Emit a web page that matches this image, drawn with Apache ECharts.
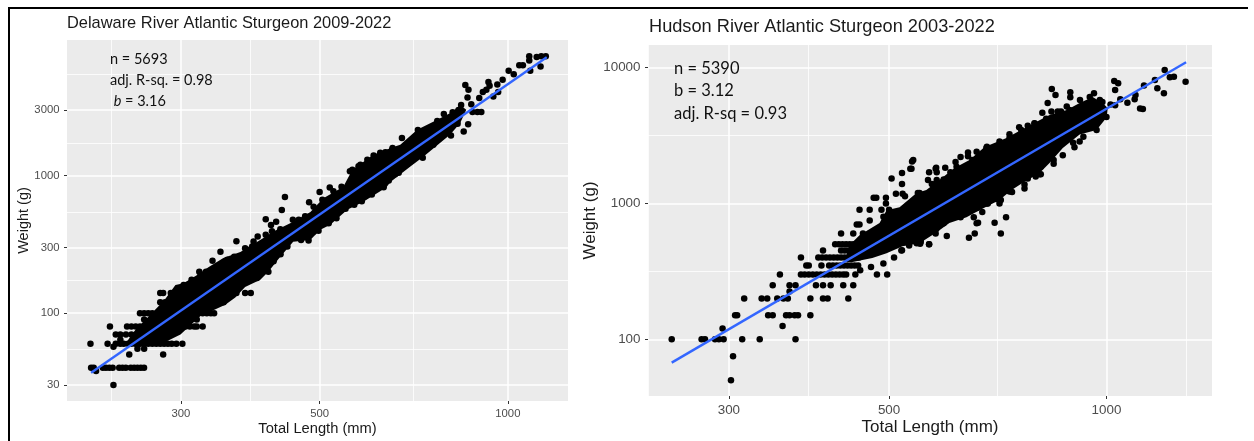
<!DOCTYPE html>
<html><head><meta charset="utf-8">
<style>html,body{margin:0;padding:0;background:#fff}#c{width:1254px;height:441px}</style>
<script src="https://cdn.jsdelivr.net/npm/echarts@6/dist/echarts.min.js"></script>
</head><body><div id="c"></div>
<script>
// ---------- Delaware ----------
const delawareTitle = 'Delaware River Atlantic Sturgeon 2009-2022';
const delawareXTicks = [300, 500, 1000];
const delawareXMinor = [232, 387, 707];
const delawareYTicks = [30, 100, 300, 1000, 3000];
const delawareYMinor = [55, 173, 540, 1732, 5500];
const delawareFit = [[215.5, 36.8], [1154, 7255]];
const delawareRows = [
  [30, [234]],
  [38, [219.5]],
  [40, [215.5,217.6,225,227.6,230.5,233.3,239,241.9,244.9,249.4,252.5,255.6,258.8,261.9]],
  [50, [248,281]],
  [55, [255.6,262]],
  [57, [234]],
  [60, [215,229,236,240,243,247,250,254,258,262,266,270,274,278,282,286,290,295,301.6]],
  [64, [240]],
  [70, [236,240,245,250,255,260,265,270]],
  [80, [231,246,250,254,258,262,266,270,275,280,285,290,295,300,305,310,315,318,325]],
  [90, [262,318]],
  [100, [258,262,266,270,275,280,285,290,295,300,305,310,315,320,325,330,335,339]],
  [120, [278,283,288,293,298,303,308,313,318,323,328,333,338,343,348,351]],
  [140, [278,281,289,294,299,304,309,314,319,324,329,334,339,344,349,354,359,364,368,380,388]]
];
const delawarePoints = [
  [321,200],[337,240],[347,280],[368,333],[398,361],[410,482],[418,437],[426,462],[435,562],[440,698],[453,478],
  [481,640],[500,760],[519,820],[564,1104],[581,1200],[610,1400],[637,1480],[654,1590],[677,1880],
  [414,200],[397,180],[467,341],[480,337],[498,398],[517,450],[550,574],[584,650],[633,825],[645,920],[660,1022],[681,1200],
  [718,2150],[731,1350],[760,1680],[771,2500],[790,2810],[811,1960],[816,2890],[831,2380],[834,3000],[842,3270],
  [850,2096],[855,4570],[862,3700],[864,2360],[865,4216],[874,3300],[878,2900],[894,2900],[907,2900],[900,3670],
  [912,4060],[924,4216],[931,4800],[935,4500],[948,3770],[962,4600],[965,4060],[981,4985],[1003,5800],[1022,5470],
  [1043,6340],[1057,6340],[1086,5800],[1082,6890],[1082,7370],[1112,7300],[1131,7370],[1150,7370],[1128,6230],
  [380,297],[392,332],[410,371],[419.5,394],[432.6,408],[463,477],[474,506],[489,595],[505,667],[526,770],[542,830],
  [559,1075],[577,1170],[596,1305],[625,1470],[653,1543],[686,1615],
  [404,206],[422,238],[433,268],[444,305],[489,392],[532,490],[568,615],[606,728],[617,810],[669,1048],
  [303,160],[312,175],[322,185],[329,200],[338.6,206],[356,244],[365,257],[383,289],[390,305]
];
const delawareCloudLengths = [244.5,253.7,267.8,282.6,294,302.8,319,331.9,350.7,373.4,397.5,406.4,421.7,453.6,483.3,506.9,545.6,564,609.5,656,672.9,716,771,815,839,858,839,809,732.5,698.4,648.9,639,587.4,553.6,520,501.3,483,453.6,432.6,413.9,401.9,380,366.5,353.3,322,299.5,277.5,253.7];
const delawareCloudWeights = [60,75.6,97,125,160,165,190,216,252,278,330,352,392,462,543,685,830,1104,1420,1615,1680,2157,2550,2900,3270,3016,2410,1995,1370,1166,900,820,645,564,440,404,341,330,257,200,175,155,130,115,95,70,59,57];
const delawareNotes = 'n = 5693\nadj. R-sq. = 0.98\n {i|b} = 3.16';

// ---------- Hudson ----------
const hudsonTitle = 'Hudson River Atlantic Sturgeon 2003-2022';
const hudsonXTicks = [300, 500, 1000];
const hudsonXMinor = [232, 387, 707, 1288];
const hudsonYTicks = [100, 1000, 10000];
const hudsonYMinor = [316, 3162];
const hudsonFit = [[250, 67.3], [1289, 10960]];
const hudsonRows = [
  [50, [302]],
  [75, [304]],
  [100, [250,275,278,287,290.6,295,313,331,371]],
  [120, [294]],
  [125, [356]],
  [150, [306,308,340,345,360,364,370,374,389]],
  [200, [315,333,339,350,357,362,389,405,411,439]],
  [225, [364]],
  [250, [345,364,371,396,405,415,432,446]],
  [300, [353,377.5,382,387,392,397,402,407,412,417,422,427,432,436,449,481,497]],
  [350, [384,387,403,413,418,423,428,433,438,443,448,453]],
  [400, [377.5,399,404,409,414,419,424,429,434,439,444,449,454,508]],
  [450, [405,429,434,439,444,449,454,520]],
  [500, [421,426,431,436,441,446,451,456,461,568]],
  [600, [429,446,460,470,480,490,500]],
  [700, [451,455]],
  [750, [470]],
  [800, [491]],
  [900, [455,470,488,500]],
  [1000, [495]],
  [1100, [476,480,495]]
];
const hudsonPoints = [
  [456,322],[472,340],[491,362],[553,520],[504,1530],[521,1680],[521,1390],[511,1180],[522,1180],[535,1800],[538,2040],
  [568,1700],[580,1800],[566,1487],[540,2088],[537,1800],[581,1830],[582,1700],[598,1830],[608,1700],[582,1487],[573,1390],
  [618,2020],[628,2200],[643,2370],[643,2230],[652,2088],[661,2404],[683,2543],[548,1193],[526,1130],
  [840,6970],[850,6295],[829,5490],[815,4660],[891,6590],[891,6055],[881,5170],[919,5783],[948,6085],[961,6480],[979,5783],[987,5600],[953,5600],
  [1025,7980],[1038,7680],[1028,6853],[1013,5370],[1028,5290],[1045,5850],[1069,5520],[1097,6295],[1094,5850],[1113,5010],[1123,4960],
  [1127,7390],[1167,8121],[1176,7070],[1201,6480],[1204,9624],[1224,8500],[1240,8570],[1287,7890],
  [726,793],[714,600],[700,722],[711,1000],[714,1059],[683,1000],[673,865],[664,722],[657,600],[645,560],[655,793],[661,715],
  [601,575],[580,600],[568,500],[552,505],[546,510],[521,453],[770,1290],[740,1215],[798,1580],[811,1640],[811,1862],[845,2088],
  [903,2590],[929,3100],[969,3475],[899,2800],[1000,4330],[865,4750],[839,4750],[795,3890],[762,3475],[734,3030],[682,2560],
  [551,1193],[575,1380],[595,1505],[620,1862],[650,1965],[671,2270],[683,2620],[711,2860],[734,3230],[757,3650],[778,3730],[795,3900],[825,4200],[856,4750],[889,4880],
  [918,2860],[870,2270],[845,1965],[808,1645],[778,1530],[770,1380],[734,1225],[704,1080],[685,1000],[661,925],[628,793],[595,715],[581,650],[553,537],[533,490]
];
const hudsonCloudLengths = [433.6,440.6,455,485,496,517,545.7,563,587,616,646,678,727,775,834,881,918,957,988,1004,1001,969,918,870,834,808,765,739,711,667,640,606,582,551,522,496,474,445];
const hudsonCloudWeights = [370,493,584,717,893,940,1193,1255,1487,1823,2088,2604,3035,3656,4484,4880,5500,6085,5500,5060,4310,3475,3220,2560,1985,1675,1414,1255,1059,893,793,717,615,510,485,430,396,370];
const hudsonNotes = 'n = 5390\nb = 3.12\nadj. R-sq = 0.93';

const xName = 'Total Length (mm)';
const yName = 'Weight (g)';

function rowsToPoints(rows){ const out=[]; rows.forEach(r=>r[1].forEach(l=>out.push([l,r[0]]))); return out; }
function xAxes(grid,min,max,ticks,minor,fs,nfs,gap,margin){
  const base={type:'log',logBase:10,gridIndex:grid,min,max};
  return [
    {...base,position:'bottom',name:xName,nameLocation:'middle',nameGap:gap,nameMoveOverlap:false,
     nameTextStyle:{color:'#1a1a1a',fontSize:nfs,fontFamily:'Liberation Sans'},
     axisLine:{show:false},axisTick:{show:true,length:3,customValues:ticks,lineStyle:{color:'#333',width:1}},
     axisLabel:{show:true,customValues:ticks,color:'#4d4d4d',fontSize:fs,fontFamily:'Liberation Sans',margin,formatter:v=>String(Math.round(v))},
     splitLine:{show:true,lineStyle:{color:'#fff',width:1.5}},minorTick:{show:false},minorSplitLine:{show:false}},
    {...base,position:'top',axisLine:{show:false},axisTick:{show:false,customValues:minor},axisLabel:{show:false,customValues:minor},
     splitLine:{show:true,lineStyle:{color:'#fff',width:0.8}},minorTick:{show:false},minorSplitLine:{show:false}}
  ];
}
function yAxes(grid,min,max,ticks,minor,fs,nfs,gap,margin){
  const base={type:'log',logBase:10,gridIndex:grid,min,max};
  return [
    {...base,position:'left',name:yName,nameLocation:'middle',nameGap:gap,nameRotate:90,nameMoveOverlap:false,
     nameTextStyle:{color:'#1a1a1a',fontSize:nfs,fontFamily:'Liberation Sans'},
     axisLine:{show:false},axisTick:{show:true,length:3,customValues:ticks,lineStyle:{color:'#333',width:1}},
     axisLabel:{show:true,customValues:ticks,color:'#4d4d4d',fontSize:fs,fontFamily:'Liberation Sans',margin,formatter:v=>String(Math.round(v))},
     splitLine:{show:true,lineStyle:{color:'#fff',width:1.5}},minorTick:{show:false},minorSplitLine:{show:false}},
    {...base,position:'right',axisLine:{show:false},axisTick:{show:false,customValues:minor},axisLabel:{show:false,customValues:minor},
     splitLine:{show:true,lineStyle:{color:'#fff',width:0.8}},minorTick:{show:false},minorSplitLine:{show:false}}
  ];
}
function panelSeries(xi,yi,name,lengths,weights,points,fit){
  const poly=lengths.map((l,i)=>[l,weights[i]]);
  return [
    {type:'custom',name:name+' dense cloud',xAxisIndex:xi,yAxisIndex:yi,silent:true,z:2,clip:false,data:[poly[0]],
     renderItem:(p,api)=>({type:'polygon',shape:{points:poly.map(q=>api.coord(q))},style:{fill:'#000'}})},
    {type:'scatter',name:name,xAxisIndex:xi,yAxisIndex:yi,silent:true,z:3,symbol:'circle',symbolSize:6.5,
     itemStyle:{color:'#000',opacity:1},data:points},
    {type:'line',name:name+' fit',xAxisIndex:xi,yAxisIndex:yi,silent:true,z:4,showSymbol:false,symbol:'none',
     lineStyle:{color:'#3366ff',width:2.4},data:fit}
  ];
}
const option={
  animation:false,backgroundColor:'#fff',
  title:[
    {text:delawareTitle,left:67,top:15,padding:0,textStyle:{color:'#1a1a1a',fontSize:16.4,fontWeight:'normal',fontFamily:'Liberation Sans'}},
    {text:hudsonTitle,left:649,top:18,padding:0,textStyle:{color:'#1a1a1a',fontSize:18.2,fontWeight:'normal',fontFamily:'Liberation Sans'}}
  ],
  grid:[
    {left:67,top:40,width:501,height:361,show:true,backgroundColor:'#ebebeb',borderWidth:0,containLabel:false,outerBoundsMode:'none'},
    {left:648,top:45,width:564,height:351,show:true,backgroundColor:'#ebebeb',borderWidth:0,containLabel:false,outerBoundsMode:'none'}
  ],
  xAxis:[...xAxes(0,197.2,1248,delawareXTicks,delawareXMinor,11.3,14.7,20,7),...xAxes(1,231.8,1400,hudsonXTicks,hudsonXMinor,13.4,17,22.5,8)],
  yAxis:[...yAxes(0,22.96,9695,delawareYTicks,delawareYMinor,11.3,14.5,36,7.5),...yAxes(1,38.2,14700,hudsonYTicks,hudsonYMinor,13.4,17,49.5,7.5)],
  series:[
    ...panelSeries(0,0,'Delaware River',delawareCloudLengths,delawareCloudWeights,[...rowsToPoints(delawareRows),...delawarePoints],delawareFit),
    ...panelSeries(2,2,'Hudson River',hudsonCloudLengths,hudsonCloudWeights,[...rowsToPoints(hudsonRows),...hudsonPoints],hudsonFit)
  ],
  graphic:[
    {type:'rect',silent:true,z:10,shape:{x:8,y:7,width:1240,height:2},style:{fill:'#000'}},
    {type:'rect',silent:true,z:10,shape:{x:8,y:7,width:2,height:434},style:{fill:'#000'}},
    {type:'text',silent:true,z:10,left:110,top:49,style:{text:delawareNotes,fill:'#111',font:'14.5px Lato',lineHeight:21,
      rich:{i:{fontStyle:'italic',font:'italic 14.5px Lato',fill:'#111'}}}},
    {type:'text',silent:true,z:10,left:674,top:57,style:{text:hudsonNotes,fill:'#111',font:'16.5px Lato',lineHeight:22.5}}
  ]
};
const chart=echarts.init(document.getElementById('c'),null,{renderer:'canvas',width:1254,height:441});
chart.setOption(option);
</script></body></html>
